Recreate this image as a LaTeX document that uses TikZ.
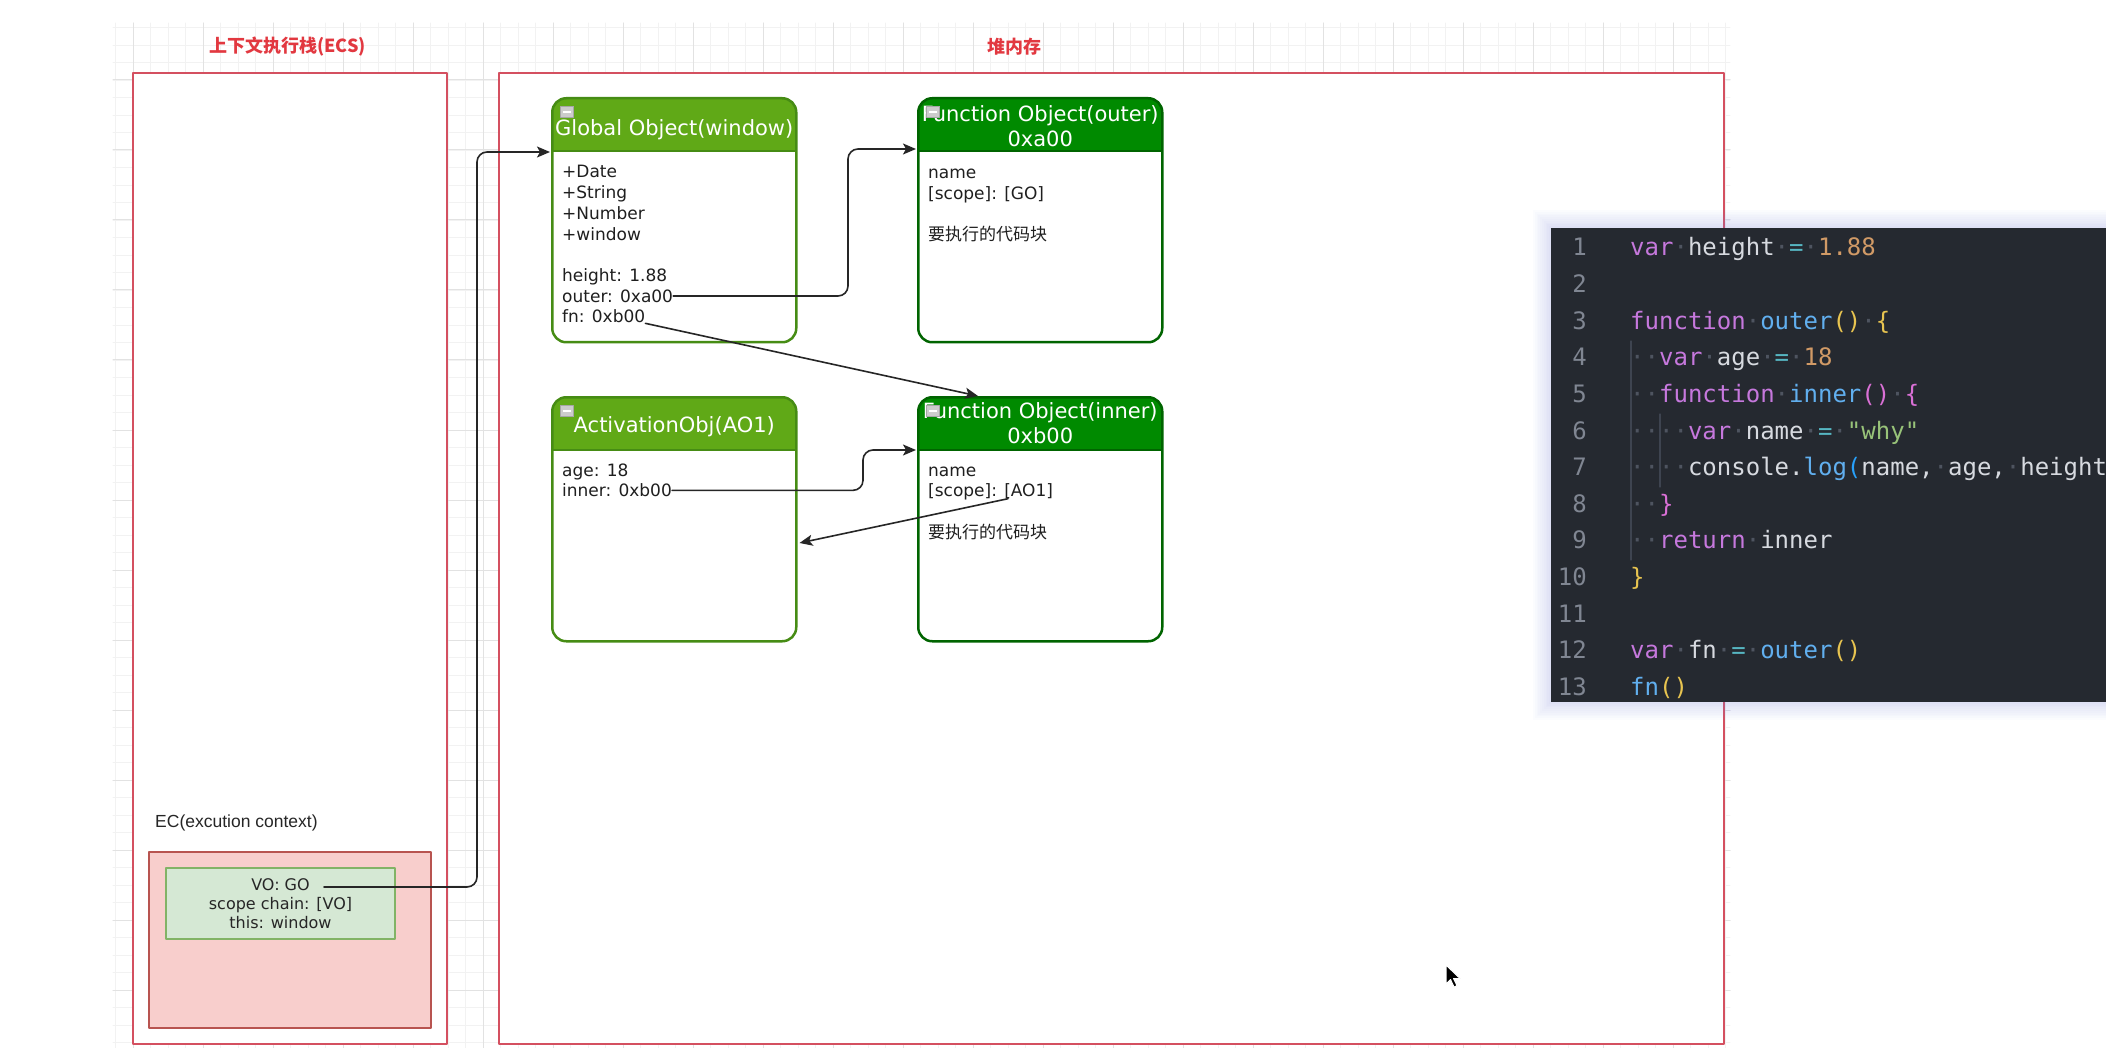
\documentclass[tikz,border=0pt]{standalone}
\usepackage{fontspec}
\setmainfont{DejaVu Sans}
\newfontfamily\cjkfont{Noto Sans CJK SC}
\newfontfamily\arialfont{Liberation Sans}
\newfontfamily\codefont{DejaVu Sans Mono}
\usetikzlibrary{arrows.meta,positioning,calc}

\definecolor{gridmajor}{RGB}{226,226,226}
\definecolor{gridminor}{RGB}{242,242,242}
\definecolor{framered}{RGB}{212,80,96}
\definecolor{titlered}{RGB}{226,56,64}
\definecolor{pinkfill}{RGB}{248,206,204}
\definecolor{pinkline}{RGB}{184,84,80}
\definecolor{mintfill}{RGB}{213,232,212}
\definecolor{mintline}{RGB}{130,179,102}
\definecolor{leafgreen}{RGB}{96,169,23}
\definecolor{leafline}{RGB}{70,140,20}
\definecolor{darkgreen}{RGB}{0,138,0}
\definecolor{darkline}{RGB}{0,100,0}
\definecolor{codebg}{RGB}{37,41,48}
\definecolor{glowblue}{RGB}{120,130,240}
\definecolor{cguide}{RGB}{62,68,80}
\definecolor{cplain}{RGB}{215,218,224}
\definecolor{cnum}{RGB}{128,134,146}
\definecolor{cdot}{RGB}{78,84,96}
\definecolor{cpurple}{RGB}{198,120,221}
\definecolor{cblue}{RGB}{97,175,239}
\definecolor{corange}{RGB}{209,154,102}
\definecolor{cgreen}{RGB}{152,195,121}
\definecolor{ccyan}{RGB}{86,182,194}
\definecolor{cgold}{RGB}{232,196,80}
\definecolor{corchid}{RGB}{218,112,214}
\definecolor{cbrblue}{RGB}{40,160,250}

\newcommand\cKw[1]{\textcolor{cpurple}{#1}}
\newcommand\cFn[1]{\textcolor{cblue}{#1}}
\newcommand\cNum[1]{\textcolor{corange}{#1}}
\newcommand\cStr[1]{\textcolor{cgreen}{#1}}
\newcommand\cOp[1]{\textcolor{ccyan}{#1}}
\newcommand\cBrA[1]{\textcolor{cgold}{#1}}
\newcommand\cBrB[1]{\textcolor{corchid}{#1}}
\newcommand\cBrC[1]{\textcolor{cbrblue}{#1}}
\newcommand\cWs{\textcolor{cdot}{·}}

\begin{document}
\begin{tikzpicture}[x=1pt, y=-1pt, >={Stealth[length=13pt,width=11pt,inset=3pt]}, line cap=round, line join=round,
  stackframe/.style={draw=framered, line width=2pt, fill=white, anchor=north west, inner sep=0pt},
  card/.style 2 args={draw=#2, fill=white, line width=2.5pt, rounded corners=14pt, minimum width=244pt, minimum height=244pt, anchor=north west, inner sep=0pt,
    path picture={\fill[#1, sharp corners] (path picture bounding box.north west) rectangle ([yshift=-53pt]path picture bounding box.north east);
      \draw[#2, line width=2pt, sharp corners] ([yshift=-53pt]path picture bounding box.north west) -- ([yshift=-53pt]path picture bounding box.north east);}},
  cardtitle/.style={text=white, font=\fontsize{21}{25}\selectfont, align=center, inner sep=0pt},
  prop/.style={text=black!88, font=\fontsize{17}{20.7}\selectfont, anchor=base west, inner sep=0pt},
  fold/.style={draw=gray!70, fill=gray!40, line width=0.8pt, minimum width=13pt, minimum height=11pt, inner sep=0pt},
  ptr/.style={->, draw=black!85, line width=1.6pt, rounded corners=10pt},
  heading/.style={text=titlered, font=\cjkfont\bfseries\fontsize{18}{22}\selectfont, inner sep=0pt},
  codeline/.style={font=\codefont\fontsize{24}{28}\selectfont, text=cplain, anchor=base west, inner sep=0pt},
  lineno/.style={font=\codefont\fontsize{24}{28}\selectfont, text=cnum, anchor=base east, inner sep=0pt}]

\fill[white] (0,0) rectangle (2106,1048);
\useasboundingbox (0,0) rectangle (2106,1048);

% grid
\foreach \gx in {115.5,133,...,1730} \draw[gridminor, line width=0.8pt] (\gx,23) -- (\gx,1048);
\foreach \gy in {27.5,45,...,1048} \draw[gridminor, line width=0.8pt] (113,\gy) -- (1730,\gy);
\foreach \gx in {133,203,...,1730} \draw[gridmajor, line width=1pt] (\gx,23) -- (\gx,1048);
\foreach \gy in {80,150,...,1048} \draw[gridmajor, line width=1pt] (113,\gy) -- (1730,\gy);

% stack and heap
\node[stackframe, minimum width=314pt, minimum height=971pt] (ecs) at (132,72) {};
\node[stackframe, minimum width=1225pt, minimum height=971pt] (heap) at (498,72) {};
\node[heading] (ecs-title) at (287.5,47) {上下文执行栈(ECS)};
\node[heading] (heap-title) at (1014.5,47) {堆内存};

% execution context
\node[anchor=west, inner sep=0pt, text=black!85, font=\arialfont\fontsize{17.5}{21}\selectfont] (ec-label) at (155,823) {EC(excution context)};
\node[draw=pinkline, fill=pinkfill, line width=1.5pt, minimum width=282pt, minimum height=176pt, anchor=north west, inner sep=0pt] (ec) at (148,851) {};
\node[draw=mintline, fill=mintfill, line width=1.5pt, minimum width=229pt, minimum height=71pt, align=center, inner sep=0pt, text=black!85, font=\fontsize{16}{19.3}\selectfont] (vo) at (280.5,903.5) {VO: GO\\scope chain: [VO]\\this: window};
\coordinate (vo-go) at (324,887);

% objects in the heap
\node[card={leafgreen}{leafline}] (gobj) at (551,97) {};
\node[card={darkgreen}{darkline}] (fouter) at (917,97) {};
\node[card={leafgreen}{leafline}] (ao) at (551,396) {};
\node[card={darkgreen}{darkline}] (finner) at (917,396) {};

\node[cardtitle] (gobj-title) at ($(gobj.north)+(0,33)$) {Global Object(window)};
\node[cardtitle] (fouter-title) at ($(fouter.north)+(0,29)$) {Function Object(outer)\\0xa00};
\node[cardtitle] (ao-title) at ($(ao.north)+(0,31)$) {ActivationObj(AO1)};
\node[cardtitle] (finner-title) at ($(finner.north)+(0,27)$) {Function Object(inner)\\0xb00};

\node[fold] (gobj-fold) at ($(gobj.north west)+(16,15)$) {\textcolor{white}{\rule{8pt}{1.8pt}}};
\node[fold] (fouter-fold) at ($(fouter.north west)+(16,15)$) {\textcolor{white}{\rule{8pt}{1.8pt}}};
\node[fold] (ao-fold) at ($(ao.north west)+(16,15)$) {\textcolor{white}{\rule{8pt}{1.8pt}}};
\node[fold] (finner-fold) at ($(finner.north west)+(16,15)$) {\textcolor{white}{\rule{8pt}{1.8pt}}};

\node[prop] (g-date) at (562,178) {+Date};
\node[prop] (g-string) at (562,198.7) {+String};
\node[prop] (g-number) at (562,219.4) {+Number};
\node[prop] (g-window) at (562,240.1) {+window};
\node[prop] (g-height) at (562,281.5) {height: 1.88};
\node[prop] (g-outer) at (562,302.2) {outer: 0xa00};
\node[prop] (g-fn) at (562,322.9) {fn: 0xb00};

\node[prop] (o-name) at (928,178.5) {name};
\node[prop] (o-scope) at (928,199.2) {[scope]: [GO]};
\node[prop] (o-code) at (928,240.6) {\cjkfont 要执行的代码块};

\node[prop] (a-age) at (562,476) {age: 18};
\node[prop] (a-inner) at (562,496.7) {inner: 0xb00};

\node[prop] (i-name) at (928,476) {name};
\node[prop] (i-scope) at (928,496.7) {[scope]: [AO1]};
\node[prop] (i-code) at (928,538) {\cjkfont 要执行的代码块};

% pointers
\coordinate (gobj-in) at ($(gobj.north west)+(-1,55)$);
\draw[ptr] (vo-go) -| ($(gobj-in)+(-73,0)$) -- (gobj-in);
\coordinate (fouter-in) at ($(fouter.north west)+(-1,52)$);
\draw[ptr] (g-outer.east) -| ($(fouter-in)+(-68,0)$) -- (fouter-in);
\draw[ptr] (g-fn.south east) -- ($(finner.north west)+(61,0)$);
\coordinate (finner-in) at ($(finner.north west)+(-1,54)$);
\draw[ptr] (a-inner.east) -| ($(finner-in)+(-53,0)$) -- (finner-in);
\coordinate (i-scope-ptr) at ($(i-scope.base west)+(80,2)$);
\draw[ptr] (i-scope-ptr) -- ($(ao.north east)+(2,147)$);

% code panel
\foreach \g in {1,...,10} \fill[glowblue, opacity=0.025] (1551-\g*1.8,228-\g*1.8) rectangle (2106,702+\g*1.8);
\node[fill=codebg, minimum width=555pt, minimum height=474pt, anchor=north west, inner sep=0pt] (code) at (1551,228) {};
\draw[cguide, line width=1.2pt] (1631,341) -- (1631,560);
\draw[cguide, line width=1.2pt] (1660,414) -- (1660,487);
\foreach \n in {1,...,13} \node[lineno] (ln\n) at (1587,219.4+36.6*\n) {\n};
\node[codeline] (c1) at (1630,256) {\cKw{var}\cWs height\cWs\cOp{=}\cWs\cNum{1.88}};
\node[codeline] (c3) at (1630,329.2) {\cKw{function}\cWs\cFn{outer}\cBrA{()}\cWs\cBrA{\{}};
\node[codeline] (c4) at (1630,365.8) {\cWs\cWs\cKw{var}\cWs age\cWs\cOp{=}\cWs\cNum{18}};
\node[codeline] (c5) at (1630,402.4) {\cWs\cWs\cKw{function}\cWs\cFn{inner}\cBrB{()}\cWs\cBrB{\{}};
\node[codeline] (c6) at (1630,439) {\cWs\cWs\cWs\cWs\cKw{var}\cWs name\cWs\cOp{=}\cWs\cStr{"why"}};
\node[codeline] (c7) at (1630,475.6) {\cWs\cWs\cWs\cWs console.\cFn{log}\cBrC{(}name,\cWs age,\cWs height\cBrC{)}};
\node[codeline] (c8) at (1630,512.2) {\cWs\cWs\cBrB{\}}};
\node[codeline] (c9) at (1630,548.8) {\cWs\cWs\cKw{return}\cWs inner};
\node[codeline] (c10) at (1630,585.4) {\cBrA{\}}};
\node[codeline] (c12) at (1630,658.6) {\cKw{var}\cWs fn\cWs\cOp{=}\cWs\cFn{outer}\cBrA{()}};
\node[codeline] (c13) at (1630,695.2) {\cFn{fn}\cBrA{()}};

% mouse pointer
\filldraw[fill=black, draw=white, line width=1pt] (1446,965) -- ++(0,19) -- ++(4.5,-4.5) -- ++(3.5,7.5) -- ++(3,-1.3) -- ++(-3.5,-7.2) -- ++(6.5,0) -- cycle;

\end{tikzpicture}
\end{document}
